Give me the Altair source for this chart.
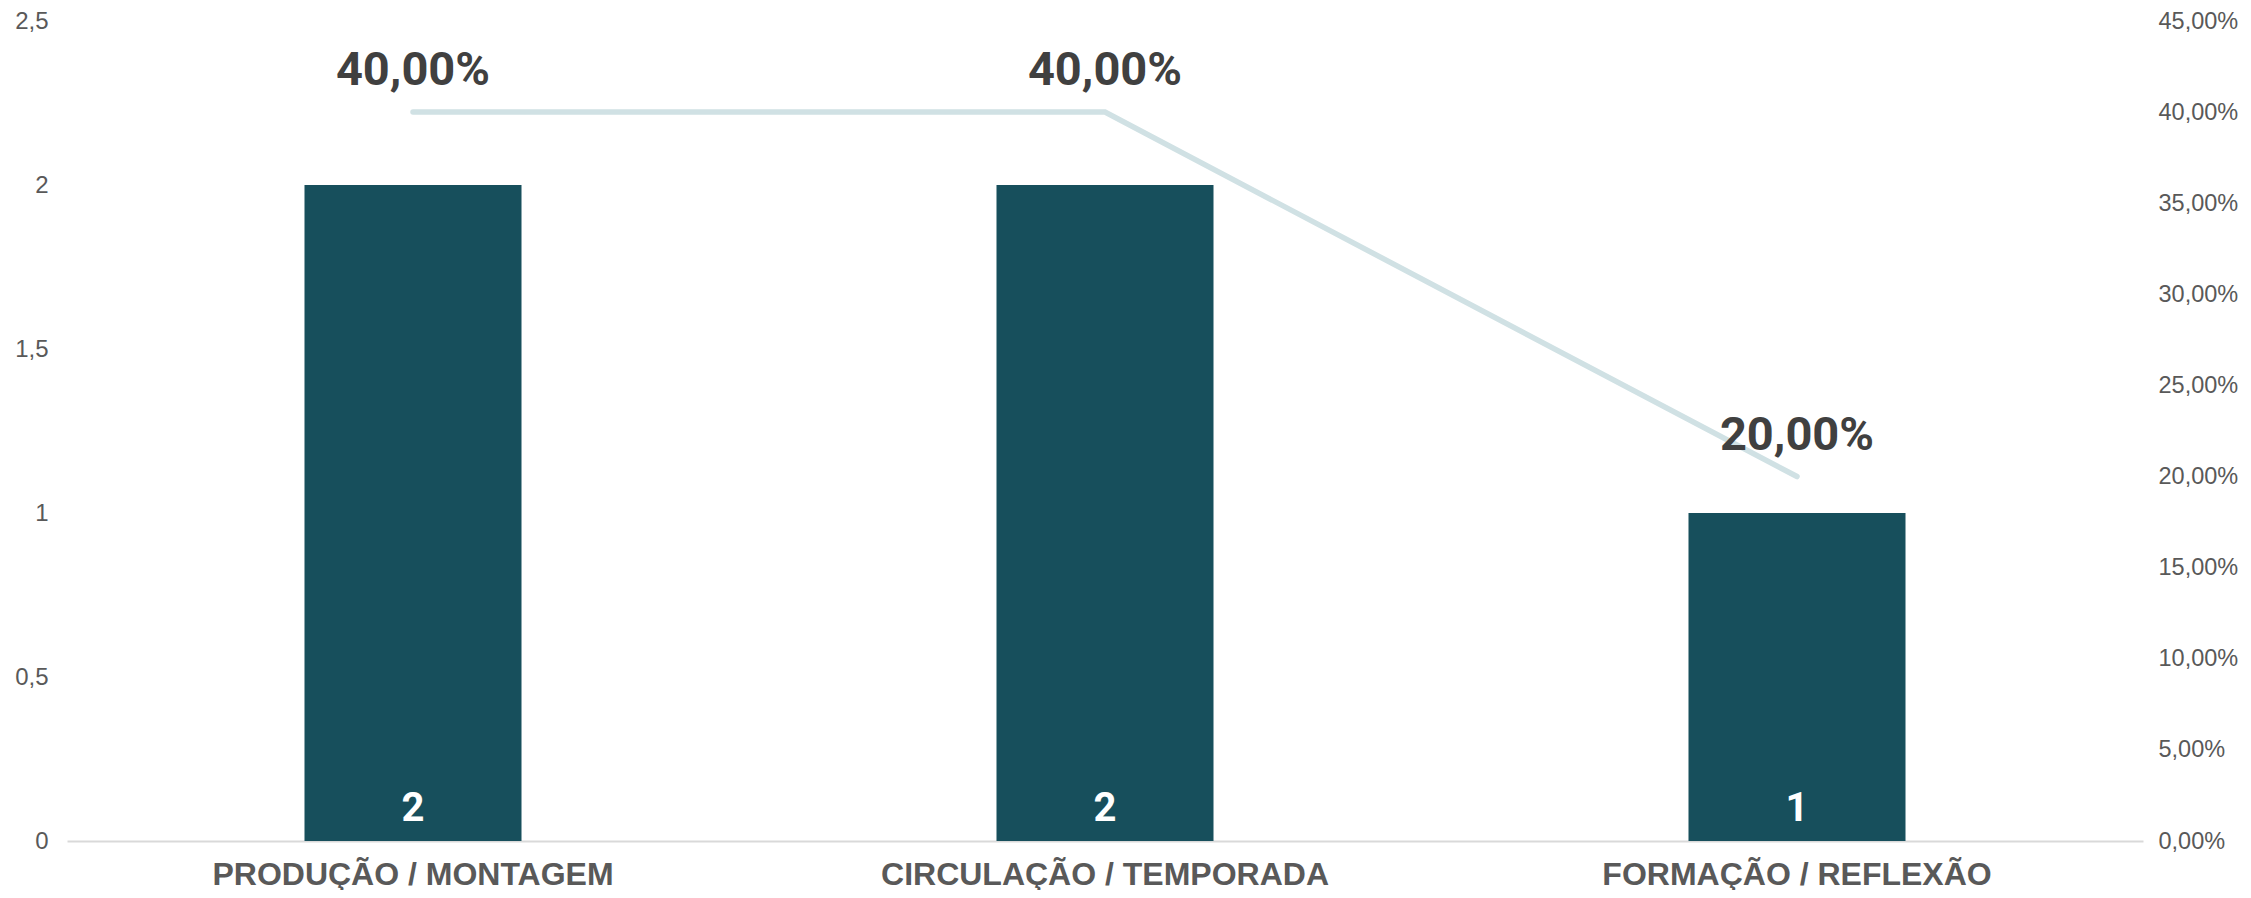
import altair as alt
import pandas as pd

categorias = ["PRODUÇÃO / MONTAGEM", "CIRCULAÇÃO / TEMPORADA", "FORMAÇÃO / REFLEXÃO"]
quantidades = [2, 2, 1]
percentuais = [0.40, 0.40, 0.20]
ticks_esq = [0, 0.5, 1, 1.5, 2, 2.5]
ticks_dir = [0, 0.05, 0.10, 0.15, 0.20, 0.25, 0.30, 0.35, 0.40, 0.45]

df = pd.DataFrame({"cat": categorias, "qtd": quantidades, "pct": percentuais})

AXFONT = "Liberation Sans, Arial, sans-serif"
NARROW = "Roboto, sans-serif"

xenc = alt.X(
    "cat:N", sort=None,
    scale=alt.Scale(paddingInner=0.6864, paddingOuter=0.3432),
    axis=alt.Axis(title=None, labelAngle=0, labelFont=AXFONT, labelFontWeight="bold",
                  labelFontSize=32, labelColor="#595959", labelBaseline="alphabetic",
                  labelPadding=43, ticks=False, domainColor="#d9d9d9", domainWidth=2,
                  grid=False, labelLimit=1000),
)

eixo_esq = alt.Axis(orient="left", title=None, values=ticks_esq, grid=False,
                    ticks=False, domain=False, labelFont=AXFONT, labelFontSize=24,
                    labelColor="#595959", labelPadding=19,
                    labelExpr="replace(format(datum.value, '~g'), '.', ',')")
eixo_dir = alt.Axis(orient="right", title=None, values=ticks_dir, grid=False,
                    ticks=False, domain=False, labelFont=AXFONT, labelFontSize=23.5,
                    labelColor="#595959", labelPadding=15,
                    labelExpr="replace(format(datum.value, '.2%'), '.', ',')")
escala_esq = alt.Scale(domain=[0, 2.5], nice=False)
escala_dir = alt.Scale(domain=[0, 0.45], nice=False)

base = alt.Chart(df)

bars = base.mark_bar(color="#174f5c").encode(
    x=xenc,
    y=alt.Y("qtd:Q", scale=escala_esq, axis=eixo_esq),
)

bar_labels = base.transform_calculate(zero="0").mark_text(
    font=NARROW, fontWeight="bold", fontSize=40, color="white",
    baseline="alphabetic", align="center", dy=-20,
).encode(
    x=xenc,
    y=alt.Y("zero:Q", scale=escala_esq, axis=eixo_esq),
    text="qtd:Q",
)

line = base.mark_line(color="#d0e1e4", strokeWidth=5.5, strokeCap="round").encode(
    x=xenc,
    y=alt.Y("pct:Q", scale=escala_dir, axis=eixo_dir),
)

line_labels = base.transform_calculate(
    lbl="replace(format(datum.pct, '.2%'), '.', ',')"
).mark_text(
    font=NARROW, fontWeight="bold", fontSize=47, color="#404040",
    baseline="alphabetic", align="center", dy=-27,
).encode(
    x=xenc,
    y=alt.Y("pct:Q", scale=escala_dir, axis=eixo_dir),
    text="lbl:N",
)

left = alt.layer(bars, bar_labels)
right = alt.layer(line, line_labels)

chart = alt.layer(left, right).resolve_scale(y="independent").properties(
    width=2076, height=820,
    padding={"left": 59, "top": 13, "right": 100, "bottom": 49},
    autosize=alt.AutoSizeParams(type="none"),
).configure_view(stroke=None)

chart.save("out.html", embed_options={"renderer": "svg", "actions": False})
